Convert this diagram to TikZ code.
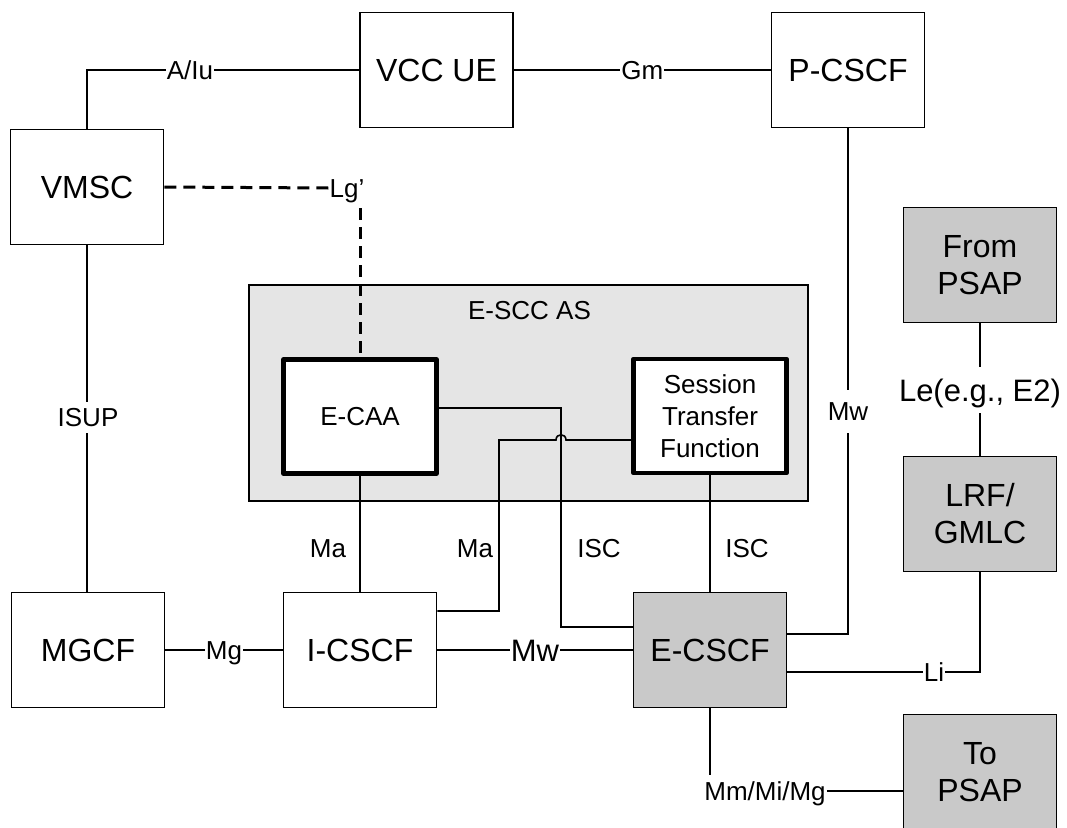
\documentclass[tikz,border=0pt]{standalone}
\usepackage{fontspec}
\setmainfont{Liberation Sans}
\usetikzlibrary{positioning,calc}

\begin{document}
\begin{tikzpicture}[x=1pt, y=-1pt,
  box/.style={draw, line width=1.8pt, minimum width=153pt, minimum height=115pt, inner sep=0pt, align=center, font=\fontsize{32}{37}\selectfont},
  greybox/.style={box, fill=black!21},
  inbox/.style={draw, line width=4.5pt, line join=round, fill=white, minimum width=153pt, minimum height=114pt, inner sep=0pt, align=center, font=\fontsize{26}{32}\selectfont},
  lbl/.style={fill=white, inner xsep=1pt, inner ysep=6pt, text height=19pt, text depth=0pt, font=\fontsize{26}{30}\selectfont},
  biglbl/.style={lbl, text height=22pt, font=\fontsize{31}{35}\selectfont},
  wire/.style={line width=1.6pt},
  dashwire/.style={line width=3pt, dash pattern=on 12pt off 7pt}]
  \useasboundingbox (0,0) rectangle (1067,827);
  \clip (0,0) rectangle (1067,827);

  % E-SCC AS group
  \node[draw, line width=1.6pt, fill=black!10, minimum width=559pt, minimum height=216pt, inner sep=0pt] (escc) at (528.5,393) {};
  \node[font=\fontsize{26}{30}\selectfont] (escclbl) at (529.5,311) {E-SCC AS};
  \node[inbox] (ecaa) at (360,416.5) {E-CAA};
  \node[inbox] (stf) at (710,416) {Session\\Transfer\\Function};

  % Network elements
  \node[box] (vmsc) at (87,187) {VMSC};
  \node[box] (vccue) at (436.5,70) {VCC UE};
  \node[box] (pcscf) at (848,70) {P-CSCF};
  \node[box] (mgcf) at (88,650) {MGCF};
  \node[box] (icscf) at (360,650) {I-CSCF};
  \node[greybox] (ecscf) at (710,650) {E-CSCF};
  \node[greybox] (frompsap) at (980,265) {From\\PSAP};
  \node[greybox] (lrf) at (980,514) {LRF/\\GMLC};
  \node[greybox] (topsap) at (980,772) {To\\PSAP};

  % A/Iu and Gm
  \draw[wire] (vccue.west) -- (vmsc.north |- vccue.west) -- (vmsc.north);
  \node[lbl] (aiu) at (190,70) {A/Iu};
  \draw[wire] (vccue.east) -- node[lbl] (gm) {Gm} (pcscf.west);

  % Lg'
  \node[lbl, inner ysep=2pt] (lg) at (347,188) {Lg’};
  \draw[dashwire] (vmsc.east) -- (lg.west);
  \draw[dashwire] (360,208) -- (ecaa.north);

  % ISUP
  \draw[wire] (vmsc.south) -- (vmsc.south |- mgcf.north);
  \node[lbl] (isup) at (88,417) {ISUP};

  % Mg and Mw
  \draw[wire] (mgcf.east) -- node[lbl] (mg) {Mg} (icscf.west);
  \draw[wire] (icscf.east) -- node[biglbl] (mwi) {Mw} (ecscf.west);

  % Ma
  \draw[wire] (ecaa.south) -- (ecaa.south |- icscf.north);
  \node[lbl] (maa) at (328,548) {Ma};
  \coordinate (hop) at (561,440);
  \draw[wire] (stf.west |- hop) -- ([xshift=5pt]hop) .. controls ([xshift=5pt,yshift=7pt]hop) and ([xshift=-5pt,yshift=7pt]hop) .. ([xshift=-5pt]hop) -- (499,440) -- (499,611) -- (icscf.east |- 499,611);
  \node[lbl] (mab) at (475,548) {Ma};

  % ISC
  \draw[wire] (ecaa.east |- 561,408) -- (561,408) -- (561,627) -- (ecscf.west |- 561,627);
  \node[lbl] (isca) at (599,548) {ISC};
  \draw[wire] (stf.south) -- (stf.south |- ecscf.north);
  \node[lbl] (iscb) at (747,548) {ISC};

  % Mw from P-CSCF
  \draw[wire] (pcscf.south) -- (pcscf.south |- 848,634) -- (ecscf.east |- 848,634);
  \node[lbl, inner ysep=12pt] (mwp) at (848,411) {Mw};

  % Le and Li
  \draw[wire] (frompsap.south) -- (lrf.north);
  \node[biglbl, inner ysep=12pt] (le) at (980,390) {Le(e.g., E2)};
  \draw[wire] (ecscf.east |- 980,672) -- (lrf.south |- 980,672) -- (lrf.south);
  \node[lbl] (li) at (934,672) {Li};

  % Mm/Mi/Mg
  \node[lbl] (mm) at (765,791) {Mm/Mi/Mg};
  \draw[wire] (ecscf.south) -- (ecscf.south |- mm.north);
  \draw[wire] (mm.east) -- (mm.east -| topsap.west);
\end{tikzpicture}
\end{document}
